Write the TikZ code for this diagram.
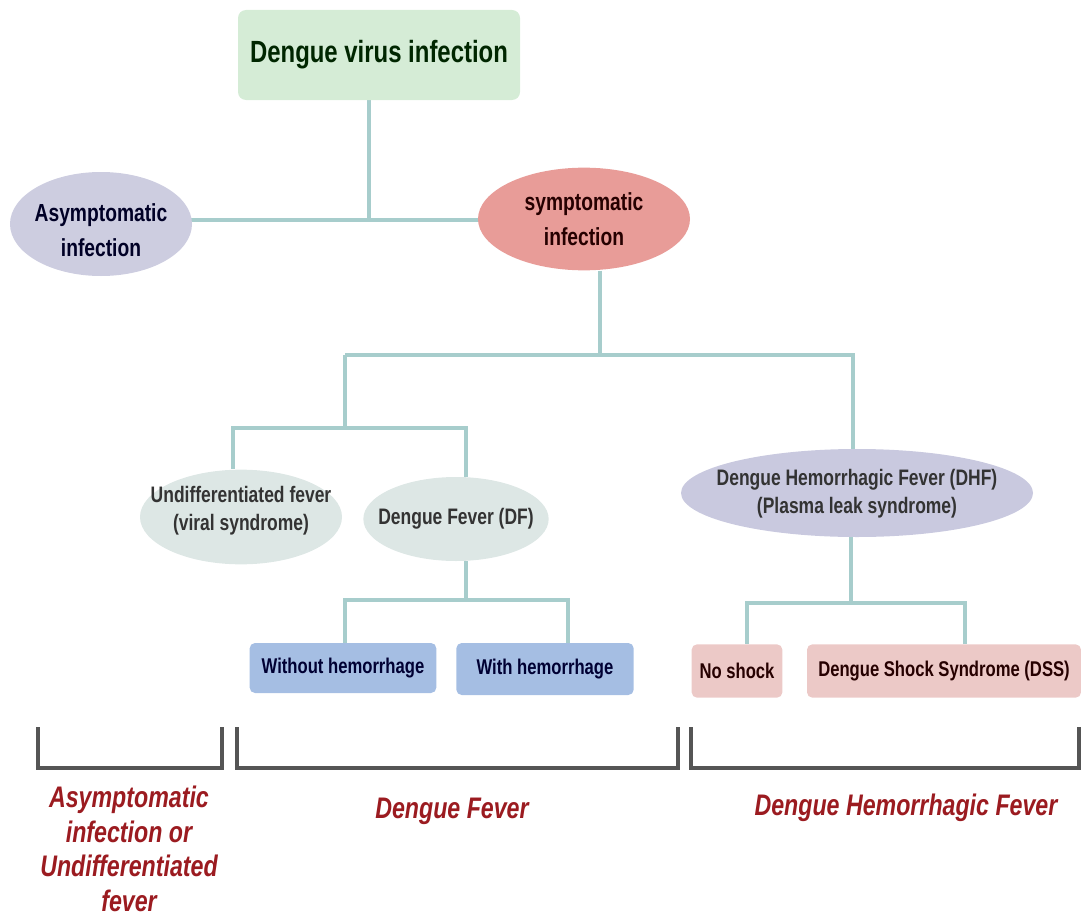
\documentclass[tikz,border=0pt]{standalone}
\usepackage{fontspec}
\setmainfont{Liberation Sans}[FakeStretch=0.78]
\usetikzlibrary{shapes.geometric}
\usetikzlibrary{backgrounds}

\definecolor{titlefill}{HTML}{D5ECD6}
\definecolor{asymfill}{HTML}{CDCDE0}
\definecolor{symfill}{HTML}{E89C98}
\definecolor{feverfill}{HTML}{DDE7E5}
\definecolor{dhffill}{HTML}{C9C9DF}
\definecolor{bluefill}{HTML}{A5BEE3}
\definecolor{pinkfill}{HTML}{ECC9C7}
\definecolor{linkcol}{HTML}{A7CDCC}
\definecolor{brackcol}{HTML}{555555}
\definecolor{labcol}{HTML}{9B1B20}

\tikzset{
  link/.style={draw=linkcol, line width=3pt},
  brack/.style={draw=brackcol, line width=3pt},
  ell/.style={ellipse, inner sep=0pt, fill=#1},
  etxt/.style={inner sep=0pt, align=center, font=\bfseries\fontsize{16.8}{21}\selectfont, text=black!80},
  bigtxt/.style={inner sep=0pt, align=center, font=\bfseries\fontsize{18.5}{26}\selectfont},
  sbox/.style={rectangle, rounded corners=4pt, inner sep=2pt, fill=#1, font=\bfseries\fontsize{16}{19}\selectfont},
  grp/.style={inner sep=0pt, align=center, text=labcol, font=\bfseries\itshape\fontsize{22.3}{26}\selectfont}
}

\begin{document}
\begin{tikzpicture}[x=0.75pt,y=0.75pt,yscale=-1,xscale=1]
		\useasboundingbox (0,0) rectangle (1081,924);

		% top box
		\node [rectangle, rounded corners=6pt, fill=titlefill, minimum width=211.5pt, minimum height=67.5pt, text=black!85!green, font=\bfseries\fontsize{23}{27}\selectfont] (virus) at (379,55) {Dengue virus infection};

		% first level
		\node [ell=asymfill, minimum width=136.5pt, minimum height=78pt] (asym) at (101,224) {};
		\node [bigtxt, text=black!85!blue] (asym-t) at (101,230) {Asymptomatic\\infection};
		\node [ell=symfill, minimum width=159pt, minimum height=77pt] (sym) at (584,219) {};
		\node [bigtxt, text=black!85!red] (sym-t) at (sym) {symptomatic\\infection};

		% second level
		\node [ell=feverfill, minimum width=151.5pt, minimum height=71pt] (undiff) at (241,517) {};
		\node [etxt] (undiff-t) at (241,511) {Undifferentiated fever\\(viral syndrome)};
		\node [ell=feverfill, minimum width=139pt, minimum height=63pt] (df) at (456,519) {};
		\node [etxt] (df-t) at (df) {Dengue Fever (DF)};
		\node [ell=dhffill, minimum width=264pt, minimum height=66pt] (dhf) at (857,493) {};
		\node [etxt] (dhf-t) at (857,494) {Dengue Hemorrhagic Fever (DHF)\\(Plasma leak syndrome)};

		% third level
		\node [sbox=bluefill, minimum width=140pt, minimum height=37.5pt, text=black!80!blue] (nohem) at (343,668) {Without hemorrhage};
		\node [sbox=bluefill, minimum width=133pt, minimum height=39pt, text=black!80!blue] (hem) at (545,669) {With hemorrhage};
		\node [sbox=pinkfill, minimum width=68pt, minimum height=40pt, text=black!85!red] (noshock) at (737,671) {No shock};
		\node [sbox=pinkfill, minimum width=205.5pt, minimum height=40pt, text=black!85!red] (dss) at (944,671) {Dengue Shock Syndrome (DSS)};

		% bus points
		\coordinate (j0) at (369,220);
		\coordinate (j1) at (600,355);
		\coordinate (j2) at (345,428);
		\coordinate (j3) at (466,600);
		\coordinate (j4) at (851,603);

		\begin{scope}[on background layer]
		\draw [link] (asym |- j0) -- (sym |- j0);
		\draw [link] (virus.south -| j0) -- (j0);
		\draw [link] (sym.south -| j1) -- (j1);
		\draw [link] (j1 -| j2) -- (j1) -| (dhf.north -| 853,0);
		\draw [link] (j1 -| j2) -- (j2);
		\draw [link] (j2) -| (undiff.north -| 233,0);
		\draw [link] (j2) -| (df.north -| j3);
		\draw [link] (df.south -| j3) -- (j3);
		\draw [link] (j3) -| (nohem.north -| j2);
		\draw [link] (j3) -| (hem.north -| 568,0);
		\draw [link] (dhf.south -| j4) -- (j4);
		\draw [link] (j4) -| (noshock.north -| 747,0);
		\draw [link] (j4) -| (dss.north -| 965,0);
		\end{scope}

		% brackets
		\draw [brack] (38,727) -- (38,768) -- (222,768) -- (222,727);
		\draw [brack] (237,727) -- (237,768) -- (678,768) -- (678,727);
		\draw [brack] (691,727) -- (691,768) -- (1079,768) -- (1079,727);

		% group labels
		\node [grp] (g-asym) at (129,849) {Asymptomatic\\infection or\\Undifferentiated\\fever};
		\node [grp] (g-df) at (452,811) {Dengue Fever};
		\node [grp] (g-dhf) at (906,808) {Dengue Hemorrhagic Fever};
\end{tikzpicture}
\end{document}
